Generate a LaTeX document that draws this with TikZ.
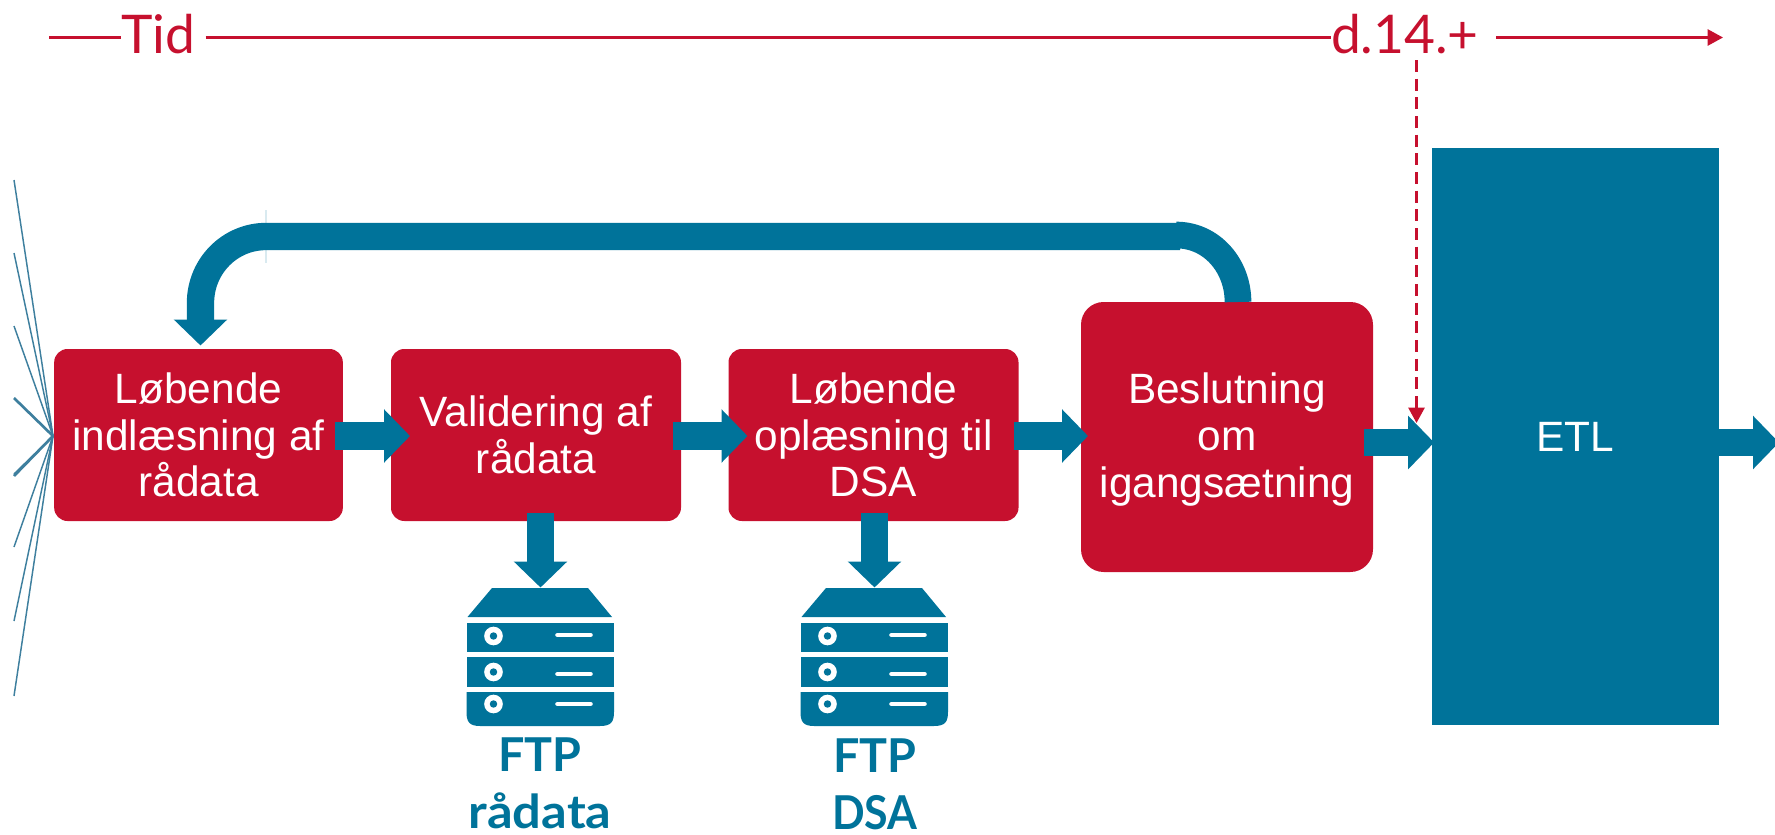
\documentclass[tikz,border=0pt]{standalone}
\usepackage{fontspec}
\setmainfont{Liberation Sans}
\newfontfamily\latofont{Lato}
\usetikzlibrary{arrows.meta}
\definecolor{rd}{HTML}{C6102E}
\definecolor{tl}{HTML}{00739A}
\definecolor{fan}{HTML}{3E7F9E}
\tikzset{
  x=0.75pt,y=-0.75pt,
  redbox/.style={fill=rd,text=white,inner sep=0pt,outer sep=0pt,rounded corners=10pt,minimum width=217.5pt,minimum height=129pt,align=center,font=\fontsize{31.8}{35}\selectfont},
  etlbox/.style={fill=tl,text=white,inner sep=0pt,outer sep=0pt,minimum width=215pt,minimum height=433pt,font=\fontsize{31.8}{35}\selectfont},
  flow/.style={draw=tl,line width=20.5pt,-{Triangle[length=19.5pt,width=39pt]}},
  flowplain/.style={draw=tl,line width=20pt},
  timeline/.style={draw=rd,line width=1.9pt},
  timetip/.style={-{Triangle[length=11.5pt,width=12pt]}},
  timetext/.style={text=rd,inner sep=0pt,outer sep=0pt,anchor=base,font=\latofont\fontsize{40}{44}\selectfont},
  ftplabel/.style={text=tl,inner sep=0pt,outer sep=0pt,anchor=base,align=center,font=\latofont\bfseries\fontsize{35}{42.7}\selectfont},
  fanline/.style={draw=fan,line width=1.1pt},
  fanthick/.style={draw=fan,line width=2pt},
  server/.pic={
    \fill[tl] (492,588) -- (588,588) -- (612,617) -- (467.5,617) -- cycle;
    \fill[tl] (466.5,623) rectangle (614,652);
    \fill[tl] (466.5,657) rectangle (614,687);
    \fill[tl] (466.5,692) -- (614,692) -- (614,712) .. controls (614,722) and (611,726) .. (600,726)
      -- (480,726) .. controls (469.5,726) and (466.5,722) .. (466.5,712) -- cycle;
    \foreach \y/\d in {636/635,672/674,704/704}{
      \fill[white] (493.5,\y) circle (7pt);
      \fill[tl] (493.5,\y) circle (2.8pt);
      \draw[white,line width=3.4pt,line cap=round] (557.5,\d) -- (590.5,\d);
    }
    \coordinate (-top) at (540.5,587.5);
  }
}
\begin{document}
\begin{tikzpicture}
\clip (0,0) rectangle (1775,835);
% fan
\coordinate (hub) at (53,436);
\foreach \n/\y in {a/180,b/253,c/326,f/474,g/547,h/621,i/696}{
  \coordinate (fan\n) at (14,\y);
  \draw[fanline] (fan\n) -- (hub);
}
\coordinate (fand) at (14,398);
\coordinate (fane) at (14,476);
\draw[fanthick] (fand) -- (hub);
\draw[fanthick] (fane) -- (hub);
% boxes
\node[redbox,minimum width=216.5pt] (box1) at (198.5,435) {Løbende\\indlæsning af\\rådata};
\node[redbox] (box2) at (536,435) {Validering af\\rådata};
\node[redbox] (box3) at (873.5,435) {Løbende\\oplæsning til\\DSA};
\node[redbox,minimum width=219pt,minimum height=202.5pt,rounded corners=17pt] (box4) at (1227,437) {\rule{0pt}{27pt}Beslutning\\om\\igangsætning};
\node[etlbox] (etl) at (1575.5,436.5) {ETL};
% servers
\pic (s1) at (0,0) {server};
\pic (s2) at (334,0) {server};
\node[ftplabel] (ftp1a) at (540,771) {FTP};
\node[ftplabel] (ftp1b) at (540,828) {\scalebox{1.085}[1]{rådata}};
\node[ftplabel] (ftp2a) at (875,772) {FTP};
\node[ftplabel] (ftp2b) at (875,829) {\scalebox{0.92}[1]{DSA}};
% flow arrows
\draw[flow] ([shift={(-8,1)}]box1.east) -- ([shift={(19,1)}]box2.west);
\draw[flow] ([shift={(-8,1)}]box2.east) -- ([shift={(19,1)}]box3.west);
\draw[flow] ([shift={(-5,1)}]box3.east) -- ([shift={(7,-1)}]box4.west);
\draw[flow] ([shift={(-9,5.5)}]box4.east) -- ([shift={(2,6)}]etl.west);
\coordinate (outend) at (1779,442.5);
\draw[flow] ([shift={(0,6)}]etl.east) -- (outend);
\draw[flow] ([shift={(4.5,-8)}]box2.south) -- (s1-top);
\draw[flow] ([shift={(1,-8)}]box3.south) -- (s2-top);
% feedback
\coordinate (fbmid) at (266,236.5);
\coordinate (fbright) at (1180,236.5);
\coordinate (fbarc) at (1176,235);
\draw[draw=tl!15,line width=1.1pt] (266,210) -- (266,263);
\draw[flowplain] ([shift={(11,0)}]box4.north) .. controls (1238,266) and (1212,235) .. (fbarc);
\draw[flow] (fbright) -- (fbmid) .. controls (230,236.5) and (200.5,266) .. (200.5,303) -- ([shift={(2,-3.5)}]box1.north);
% time line
\node[timetext] (tid) at (158,53) {Tid};
\node[timetext] (d14) at (1405,53) {d.14.+};
\coordinate (tstart) at (49,37.5);
\coordinate (tend) at (1723,37.5);
\coordinate (dashstart) at (1416.5,60);
\coordinate (dashend) at (1416.5,423);
\draw[timeline] (tstart) -- (tstart -| tid.west);
\draw[timeline] ([xshift=8pt]tid.east |- tstart) -- (tstart -| d14.west);
\draw[timeline,timetip] ([xshift=13pt]d14.east |- tstart) -- (tend);
\draw[timeline,timetip,dash pattern=on 9pt off 5pt] (dashstart) -- (dashend);
\end{tikzpicture}
\end{document}
